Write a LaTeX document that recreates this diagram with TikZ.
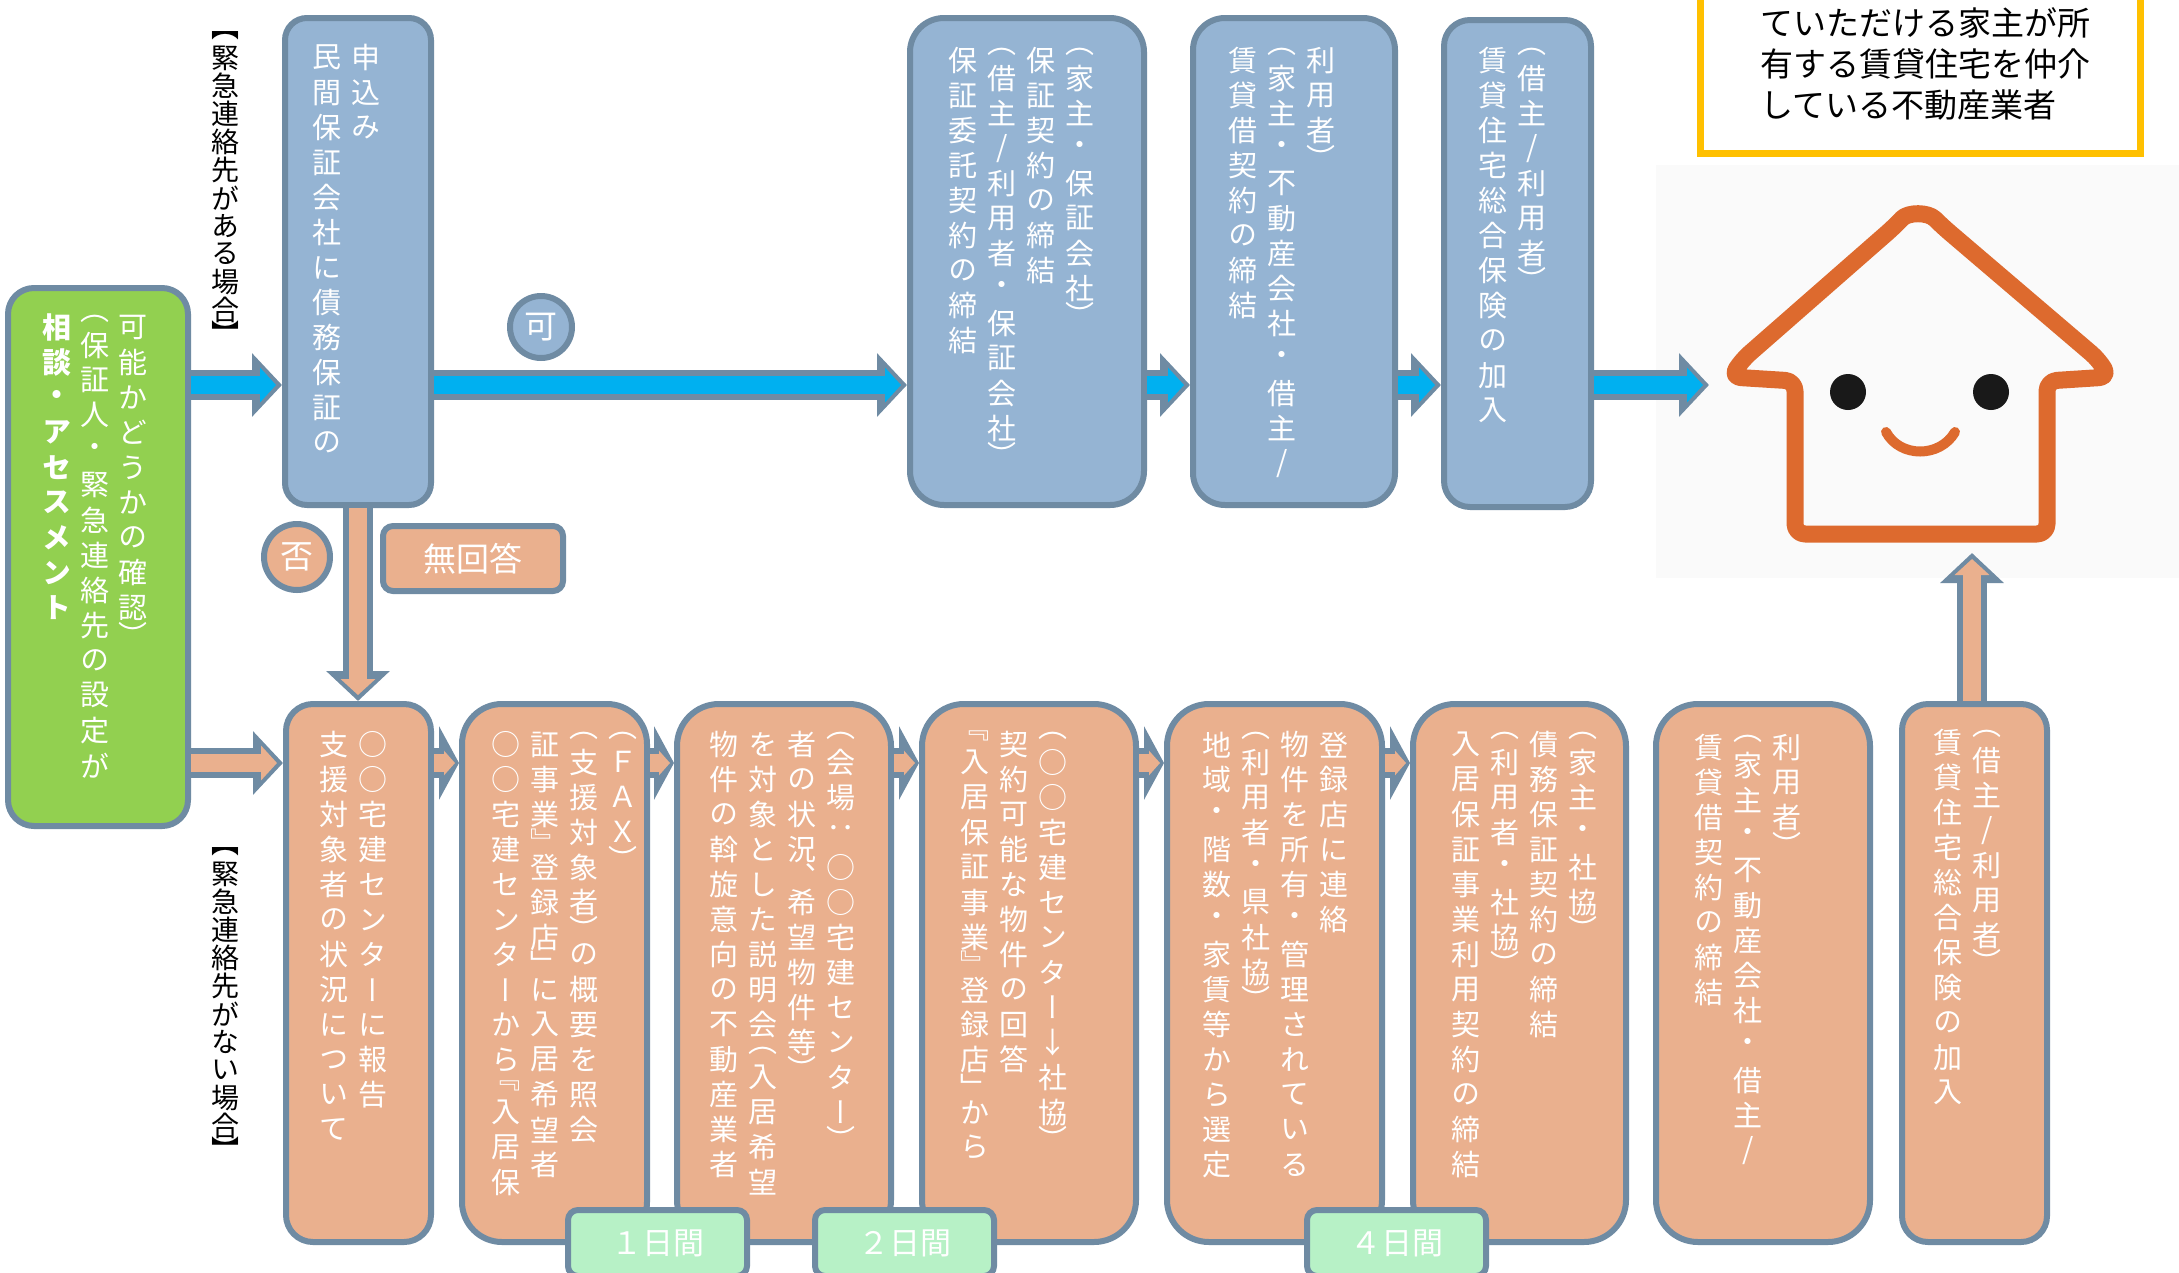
\documentclass[tikz,border=0pt]{standalone}
\usepackage{fontspec}
\usetikzlibrary{arrows.meta}
\newfontfamily\cjkfont{Noto Sans CJK JP}
\newfontfamily\tatefont[RawFeature={+vert}]{Noto Sans CJK JP}
\definecolor{linegray}{HTML}{6F8BA3}
\definecolor{boxblue}{HTML}{95B4D3}
\definecolor{boxorange}{HTML}{EAB08E}
\definecolor{boxgreen}{HTML}{92D050}
\definecolor{daygreen}{HTML}{B7F1C6}
\definecolor{flowblue}{HTML}{00B0F0}
\definecolor{noteyellow}{HTML}{FFC000}
\definecolor{houseorange}{HTML}{DD6A2E}
\XeTeXuseglyphmetrics=1
\newlength\tatecol
\newlength\tatestep
\setlength\tatecol{39pt}
\setlength\tatestep{35pt}
\newcommand\tatehalf{.5}
\makeatletter
\newcommand\tate[1]{\hbox to\tatecol{\hss\vtop{\offinterlineskip\kern0pt
\@tfor\ch:=#1\do{\expandafter\in@\expandafter{\ch}{（）『』「」、【】}%
\ifin@\vbox to\tatehalf\tatestep{\vss\hbox to1.1em{\hss\ch\hss}\vss}%
\else\vbox to\tatestep{\vss\hbox to1.1em{\hss\ch\hss}\vss}\fi}}\hss}}
\makeatother
\tikzset{
flowbox/.style={draw=linegray,line width=6pt,anchor=north west,inner sep=0pt},
bluebox/.style={flowbox,fill=boxblue},
orangebox/.style={flowbox,fill=boxorange},
greenbox/.style={flowbox,fill=boxgreen},
daybox/.style={flowbox,fill=daygreen,rounded corners=10pt,text=white,font=\cjkfont\fontsize{31pt}{31pt}\selectfont},
tatetext/.style={anchor=north east,inner sep=0pt,text=white,font=\tatefont\fontsize{29pt}{29pt}\selectfont},
sidetext/.style={anchor=north east,inner sep=0pt,text=black,font=\tatefont\fontsize{28pt}{28pt}\selectfont},
roundmark/.style={circle,draw=linegray,line width=6pt,inner sep=0pt,text=white,font=\cjkfont\fontsize{33pt}{33pt}\selectfont},
arrowout/.style={draw=linegray,line width=30pt,-{Triangle[length=30pt,width=62pt]}},
arrowin/.style={line width=18pt,-{Triangle[length=16pt,width=34pt]},shorten >=6pt},
shortout/.style={draw=linegray,line width=30pt,-{Triangle[length=20pt,width=73pt]}},
shortin/.style={line width=18pt,-{Triangle[length=11pt,width=24pt]},shorten >=4pt},
}
\newcommand\blockarrow[3]{\draw[arrowout] #2 -- #3;
\draw[arrowin,draw=#1] #2 -- #3;}
\newcommand\shortarrow[2]{\draw[shortout] #1 -- #2;
\draw[shortin,draw=boxorange] #1 -- #2;}
\begin{document}
\begin{tikzpicture}[x=1pt,y=-1pt]
\useasboundingbox (0,0) rectangle (2179,1272);
\coordinate (rowtop) at (0,385);
\coordinate (rowlow) at (0,763);
\coordinate (houseleft) at (1709,385);
\coordinate (housefoot) at (1972,553);
\node[anchor=north west,fill=black!2,minimum width=523pt,minimum height=413pt,inner sep=0pt] (photo) at (1656,165) {};
\node[anchor=north west,draw=noteyellow,line width=7pt,minimum width=440pt,minimum height=170pt,inner sep=0pt] (note) at (1697,-20) {};
\node[anchor=north west,inner sep=0pt,align=left,font=\cjkfont\fontsize{33pt}{41pt}\selectfont] (notetext) at (1760,7) {ていただける家主が所\\有する賃貸住宅を仲介\\している不動産業者};
\node[greenbox,minimum width=180pt,minimum height=538pt,rounded corners=26pt] (soudan) at (5,285) {};
\node[bluebox,minimum width=146pt,minimum height=487pt,rounded corners=22pt] (b1) at (282,15) {};
\node[bluebox,minimum width=234pt,minimum height=487pt,rounded corners=34pt] (b2) at (907,15) {};
\node[bluebox,minimum width=202pt,minimum height=487pt,rounded corners=32pt] (b3) at (1190,15) {};
\node[bluebox,minimum width=147pt,minimum height=487pt,rounded corners=26pt] (b4) at (1441,17) {};
\node[orangebox,minimum width=145pt,minimum height=538pt,rounded corners=27pt] (o1) at (283,701) {};
\node[orangebox,minimum width=185pt,minimum height=538pt,rounded corners=40pt] (o2) at (459,701) {};
\node[orangebox,minimum width=214pt,minimum height=538pt,rounded corners=42pt] (o3) at (674,701) {};
\node[orangebox,minimum width=214pt,minimum height=538pt,rounded corners=42pt] (o4) at (919,701) {};
\node[orangebox,minimum width=215pt,minimum height=538pt,rounded corners=42pt] (o5) at (1164,701) {};
\node[orangebox,minimum width=213pt,minimum height=538pt,rounded corners=42pt] (o6) at (1410,701) {};
\node[orangebox,minimum width=214pt,minimum height=538pt,rounded corners=42pt] (o7) at (1653,701) {};
\node[orangebox,minimum width=145pt,minimum height=538pt,rounded corners=26pt] (o8) at (1899,701) {};
\blockarrow{flowblue}{(soudan.east |- rowtop)}{(b1.west |- rowtop)}
\blockarrow{flowblue}{(b1.east |- rowtop)}{(b2.west |- rowtop)}
\blockarrow{flowblue}{(b2.east |- rowtop)}{(b3.west |- rowtop)}
\blockarrow{flowblue}{(b3.east |- rowtop)}{(b4.west |- rowtop)}
\blockarrow{flowblue}{(b4.east |- rowtop)}{(houseleft)}
\blockarrow{boxorange}{(soudan.east |- rowlow)}{(o1.west |- rowlow)}
\shortarrow{(o1.east |- rowlow)}{(o2.west |- rowlow)}
\shortarrow{(o2.east |- rowlow)}{(o3.west |- rowlow)}
\shortarrow{(o3.east |- rowlow)}{(o4.west |- rowlow)}
\shortarrow{(o4.east |- rowlow)}{(o5.west |- rowlow)}
\shortarrow{(o5.east |- rowlow)}{(o6.west |- rowlow)}
\blockarrow{boxorange}{(b1.south)}{(o1.north -| b1.south)}
\blockarrow{boxorange}{(o8.north -| housefoot)}{(housefoot)}
\node[roundmark,fill=boxblue,minimum size=62pt] (ka) at (541,327) {可};
\node[roundmark,fill=boxorange,minimum size=66pt] (hi) at (297,557) {否};
\node[flowbox,fill=boxorange,rounded corners=10pt,minimum width=180pt,minimum height=65pt,text=white,font=\cjkfont\fontsize{33pt}{33pt}\selectfont] (mukaito) at (380,523) {無回答};
\renewcommand\tatehalf{.6}
\setlength\tatestep{28pt}
\node[sidetext] (aribasho) at (245,27) {\tate{【緊急連絡先がある場合】}};
\node[sidetext] (nashibasho) at (245,843) {\tate{【緊急連絡先がない場合】}};
\renewcommand\tatehalf{.5}
\setlength\tatestep{35pt}
\setlength\tatecol{38pt}
\node[tatetext] (soudantext) at (152,310) {{\bfseries\tate{相談・アセスメント}}\tate{（保証人・緊急連絡先の設定が}\tate{可能かどうかの確認）}};
\setlength\tatecol{39pt}
\node[tatetext] (b1text) at (386,40) {\tate{民間保証会社に債務保証の}\tate{申込み}};
\node[tatetext] (b2text) at (1100,43) {\tate{保証委託契約の締結}\tate{（借主/利用者・保証会社）}\tate{保証契約の締結}\tate{（家主・保証会社）}};
\node[tatetext] (b3text) at (1341,43) {\tate{賃貸借契約の締結}\tate{（家主・不動産会社・借主/}\tate{利用者）}};
\node[tatetext] (b4text) at (1552,43) {\tate{賃貸住宅総合保険の加入}\tate{（借主/利用者）}};
\node[tatetext] (o1text) at (393,727) {\tate{支援対象者の状況について}\tate{○○宅建センターに報告}};
\node[tatetext] (o2text) at (643,727) {\tate{○○宅建センターから『入居保}\tate{証事業』登録店」に入居希望者}\tate{（支援対象者）の概要を照会}\tate{（ＦＡＸ）}};
\node[tatetext] (o3text) at (861,727) {\tate{物件の斡旋意向の不動産業者}\tate{を対象とした説明会（入居希望}\tate{者の状況、希望物件等）}\tate{（会場：○○宅建センター）}};
\node[tatetext] (o4text) at (1073,727) {\tate{『入居保証事業』登録店」から}\tate{契約可能な物件の回答}\tate{（○○宅建センター↓社協）}};
\node[tatetext] (o5text) at (1354,727) {\tate{地域・階数・家賃等から選定}\tate{（利用者・県社協）}\tate{物件を所有・管理されている}\tate{登録店に連絡}};
\node[tatetext] (o6text) at (1603,727) {\tate{入居保証事業利用契約の締結}\tate{（利用者・社協）}\tate{債務保証契約の締結}\tate{（家主・社協）}};
\node[tatetext] (o7text) at (1807,730) {\tate{賃貸借契約の締結}\tate{（家主・不動産会社・借主/}\tate{利用者）}};
\node[tatetext] (o8text) at (2007,725) {\tate{賃貸住宅総合保険の加入}\tate{（借主/利用者）}};
\node[daybox,minimum width=179pt,minimum height=66pt] (day1) at (565,1207) {１日間};
\node[daybox,minimum width=179pt,minimum height=66pt] (day2) at (812,1207) {２日間};
\node[daybox,minimum width=179pt,minimum height=66pt] (day4) at (1304,1207) {４日間};
\draw[houseorange,line width=17pt,line join=round,rounded corners=10pt] (1795,381) -- (1795,534) -- (2047,534) -- (2047,381) -- (2109,377) -- (2099,360) -- (1942,226) .. controls (1928,212) and (1908,212) .. (1895,226) -- (1742,360) -- (1731,377) -- cycle;
\fill[black!90] (1848,392) circle (18pt);
\fill[black!90] (1991,392) circle (18pt);
\draw[houseorange,line width=10pt,line cap=round] (1886,432) .. controls (1900,458) and (1940,458) .. (1955,432);
\end{tikzpicture}
\end{document}
